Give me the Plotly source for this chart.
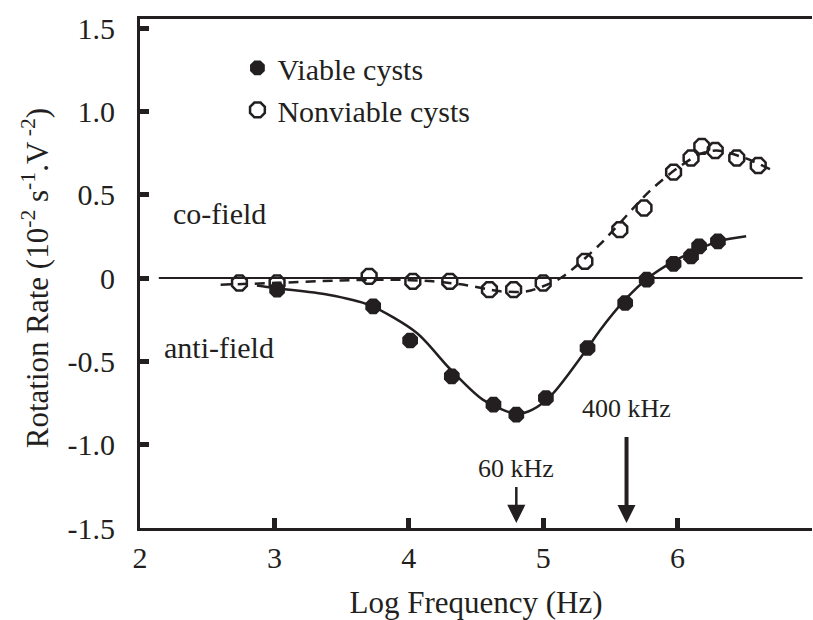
import plotly.graph_objects as go

# ---- data ----
viable_x = [3.02, 3.735, 4.01, 4.32, 4.63, 4.80, 5.02, 5.33, 5.61, 5.77, 5.97, 6.10, 6.16, 6.30]
viable_y = [-0.07, -0.17, -0.375, -0.59, -0.76, -0.82, -0.72, -0.42, -0.15, -0.01, 0.085, 0.13, 0.19, 0.22]

nonviable_x = [2.74, 3.02, 3.705, 4.03, 4.305, 4.60, 4.78, 5.00, 5.31, 5.57, 5.75, 5.97, 6.10, 6.18, 6.28, 6.44, 6.60]
nonviable_y = [-0.03, -0.03, 0.01, -0.02, -0.02, -0.07, -0.07, -0.03, 0.10, 0.29, 0.42, 0.635, 0.72, 0.79, 0.765, 0.72, 0.675]

viable_fit_x = [2.87, 3.0, 3.4, 3.7, 4.06, 4.3, 4.55, 4.8, 4.92, 5.07, 5.33, 5.42, 5.61, 5.78, 5.97, 6.15, 6.3, 6.51]
viable_fit_y = [-0.045, -0.06, -0.10, -0.16, -0.33, -0.54, -0.73, -0.815, -0.79, -0.695, -0.42, -0.316, -0.13, 0.0, 0.10, 0.17, 0.22, 0.25]

nonviable_fit_x = [2.6, 3.0, 3.44, 3.86, 4.18, 4.43, 4.68, 4.88, 5.03, 5.15, 5.42, 5.79, 6.0, 6.17, 6.29, 6.5, 6.71]
nonviable_fit_y = [-0.04, -0.03, -0.016, -0.01, -0.02, -0.043, -0.08, -0.08, -0.04, 0.01, 0.2, 0.52, 0.66, 0.745, 0.765, 0.72, 0.645]

x_ticks = [2, 3, 4, 5, 6, 7]
y_ticks = [1.5, 1.0, 0.5, 0, -0.5, -1.0, -1.5]
y_tick_text = ["1.5", "1.0", "0.5", "0", "-0.5", "-1.0", "-1.5"]

arrow_x = [4.80, 5.62]
arrow_labels = ["60 kHz", "400 kHz"]

INK = "#231f20"
FONT = "Liberation Serif"

fig = go.Figure()

fig.add_trace(go.Scatter(x=viable_fit_x, y=viable_fit_y, mode="lines",
                         line=dict(color=INK, width=2.5, shape="spline", smoothing=0.8),
                         showlegend=False, hoverinfo="skip"))
fig.add_trace(go.Scatter(x=nonviable_fit_x, y=nonviable_fit_y, mode="lines",
                         line=dict(color=INK, width=2.5, shape="spline", smoothing=0.8, dash="10px,7px"),
                         showlegend=False, hoverinfo="skip"))
fig.add_trace(go.Scatter(x=viable_x, y=viable_y, mode="markers", name="Viable cysts",
                         legendgroup="a",
                         marker=dict(symbol="octagon", size=17, color=INK, line=dict(width=0))))
fig.add_trace(go.Scatter(x=nonviable_x, y=nonviable_y, mode="markers", name="Nonviable cysts",
                         legendgroup="b",
                         marker=dict(symbol="octagon-open", size=16, color=INK, line=dict(width=2.5, color=INK))))

# zero reference line
fig.add_shape(type="line", xref="x", yref="y", x0=2.14, x1=6.93, y0=0, y1=0,
              line=dict(color=INK, width=2))

# annotations
fig.add_annotation(x=2.595, y=0.387, xref="x", yref="y", text="co-field", showarrow=False,
                   font=dict(size=30, family=FONT, color=INK))
fig.add_annotation(x=2.59, y=-0.417, xref="x", yref="y", text="anti-field", showarrow=False,
                   font=dict(size=30, family=FONT, color=INK))

# arrows (shaft + head drawn by annotation arrows, anchored at the label frequencies)
fig.add_annotation(x=arrow_x[0], y=-1.47, xref="x", yref="y", ax=0, ay=-40, text=" ",
                   showarrow=True, arrowhead=2, arrowwidth=2.5, arrowsize=1.45, arrowcolor=INK,
                   font=dict(size=4))
fig.add_annotation(x=arrow_x[0], y=-1.14, xref="x", yref="y", text=arrow_labels[0], showarrow=False,
                   font=dict(size=26, family=FONT, color=INK))
fig.add_annotation(x=arrow_x[1], y=-1.47, xref="x", yref="y", ax=0, ay=-90, text=" ",
                   showarrow=True, arrowhead=2, arrowwidth=4, arrowsize=0.9, arrowcolor=INK,
                   font=dict(size=4))
fig.add_annotation(x=arrow_x[1], y=-0.78, xref="x", yref="y", text=arrow_labels[1], showarrow=False,
                   font=dict(size=26, family=FONT, color=INK))

# y axis title as rotated annotation
fig.add_annotation(x=-0.156, y=0.491, xref="paper", yref="paper", textangle=-90,
                   text="Rotation Rate (10<sup>-2</sup> s<sup>-1</sup>.V<sup> -2</sup>)",
                   showarrow=False, xanchor="center", yanchor="middle",
                   font=dict(size=31, family=FONT, color=INK))

fig.update_layout(
    width=813, height=620,
    margin=dict(l=140, r=1, t=19, b=88),
    paper_bgcolor="white", plot_bgcolor="white",
    font=dict(family=FONT, color=INK, size=30),
    legend=dict(x=0.145, y=0.955, xanchor="left", yanchor="top",
                font=dict(size=30, family=FONT, color=INK),
                bgcolor="rgba(0,0,0,0)", tracegroupgap=0, traceorder="grouped"),
    xaxis=dict(range=[2, 7], tickvals=x_ticks, ticks="inside", ticklen=10, tickwidth=5,
               tickcolor=INK, showline=True, linewidth=3, linecolor=INK, mirror=True,
               showgrid=False, zeroline=False, ticklabelstandoff=1,
               tickfont=dict(size=30, family=FONT, color=INK),
               title=dict(text="Log Frequency (Hz)", standoff=23,
                          font=dict(size=31, family=FONT, color=INK))),
    yaxis=dict(range=[-1.5, 1.554], tickvals=y_ticks, ticktext=y_tick_text, ticks="inside",
               ticklen=9, tickwidth=5, tickcolor=INK, showline=True, linewidth=3, linecolor=INK,
               mirror=False, showgrid=False, zeroline=False, ticklabelstandoff=16,
               tickfont=dict(size=30, family=FONT, color=INK)),
)

fig.write_html("out.html")
